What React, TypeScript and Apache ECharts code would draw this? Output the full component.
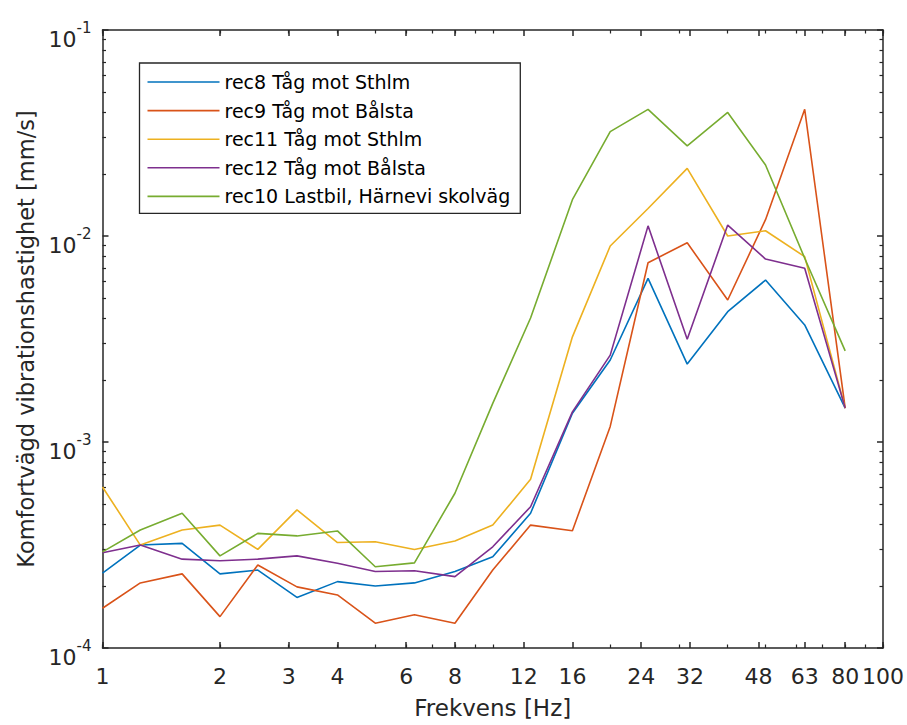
import React, { useEffect, useRef } from "react";
import * as echarts from "echarts";

const FREQS = [1, 1.25, 1.6, 2, 2.5, 3.15, 4, 5, 6.3, 8, 10, 12.5, 16, 20, 25, 31.5, 40, 50, 63, 80];

const REC8 = [2.31e-4, 3.16e-4, 3.22e-4, 2.29e-4, 2.39e-4, 1.76e-4, 2.1e-4, 2.0e-4, 2.07e-4, 2.35e-4, 2.77e-4, 4.51e-4, 1.38e-3, 2.5e-3, 6.23e-3, 2.39e-3, 4.29e-3, 6.11e-3, 3.7e-3, 1.46e-3];
const REC9 = [1.56e-4, 2.07e-4, 2.29e-4, 1.42e-4, 2.53e-4, 1.98e-4, 1.81e-4, 1.32e-4, 1.45e-4, 1.32e-4, 2.39e-4, 3.95e-4, 3.71e-4, 1.19e-3, 7.42e-3, 9.27e-3, 4.89e-3, 1.2e-2, 4.12e-2, 1.46e-3];
const REC11 = [6.05e-4, 3.16e-4, 3.74e-4, 3.95e-4, 3.01e-4, 4.68e-4, 3.25e-4, 3.28e-4, 3.01e-4, 3.31e-4, 3.95e-4, 6.59e-4, 3.24e-3, 8.94e-3, 1.36e-2, 2.13e-2, 1.0e-2, 1.06e-2, 7.94e-3, 1.46e-3];
const REC12 = [2.9e-4, 3.16e-4, 2.7e-4, 2.65e-4, 2.7e-4, 2.8e-4, 2.58e-4, 2.35e-4, 2.37e-4, 2.22e-4, 3.1e-4, 4.85e-4, 1.4e-3, 2.64e-3, 1.12e-2, 3.15e-3, 1.13e-2, 7.73e-3, 6.97e-3, 1.46e-3];
const REC10 = [2.93e-4, 3.74e-4, 4.51e-4, 2.8e-4, 3.6e-4, 3.5e-4, 3.7e-4, 2.48e-4, 2.59e-4, 5.64e-4, 1.54e-3, 4.0e-3, 1.5e-2, 3.21e-2, 4.12e-2, 2.74e-2, 3.98e-2, 2.21e-2, 7.8e-3, 2.77e-3];

const SERIES_NAMES = [
  "rec8 Tåg mot Sthlm",
  "rec9 Tåg mot Bålsta",
  "rec11 Tåg mot Sthlm",
  "rec12 Tåg mot Bålsta",
  "rec10 Lastbil, Härnevi skolväg",
];
const SERIES_VALUES = [REC8, REC9, REC11, REC12, REC10];
const COLORS = ["#0072BD", "#D95319", "#EDB120", "#7E2F8E", "#77AC30"];

const X_TICKS = [1, 2, 3, 4, 6, 8, 12, 16, 24, 32, 48, 63, 80, 100];
const X_MINOR = [1, 2, 3, 4, 5, 6, 7, 8, 9, 10, 20, 30, 40, 50, 60, 70, 80, 90, 100];
const Y_TICKS = [1e-4, 1e-3, 1e-2, 1e-1];
const Y_MINOR = [
  2e-4, 3e-4, 4e-4, 5e-4, 6e-4, 7e-4, 8e-4, 9e-4,
  2e-3, 3e-3, 4e-3, 5e-3, 6e-3, 7e-3, 8e-3, 9e-3,
  2e-2, 3e-2, 4e-2, 5e-2, 6e-2, 7e-2, 8e-2, 9e-2,
];

const FONT = "DejaVu Sans";
const AXIS_COLOR = "#262626";

export default function App() {
  const ref = useRef<HTMLDivElement>(null);

  useEffect(() => {
    if (!ref.current) return;
    const chart = echarts.init(ref.current, undefined, { renderer: "svg" });

    const lineCommon = { show: true, lineStyle: { color: AXIS_COLOR, width: 1.5 } };
    const hiddenLine = { show: false };
    const majorTickX = { show: true, inside: true, length: 6, customValues: X_TICKS, lineStyle: { color: AXIS_COLOR, width: 1.5 } };
    const minorTickX = { show: true, inside: true, length: 3.5, customValues: X_MINOR, lineStyle: { color: AXIS_COLOR, width: 1.2 } };
    const majorTickY = { show: true, inside: true, length: 6, customValues: Y_TICKS, lineStyle: { color: AXIS_COLOR, width: 1.5 } };
    const minorTickY = { show: true, inside: true, length: 3.5, customValues: Y_MINOR, lineStyle: { color: AXIS_COLOR, width: 1.2 } };

    const xBase = { type: "log", logBase: 10, min: 1, max: 100, splitLine: { show: false } };
    const yBase = { type: "log", logBase: 10, min: 1e-4, max: 1e-1, splitLine: { show: false } };

    const option: any = {
      animation: false,
      backgroundColor: "#ffffff",
      grid: { left: 102.5, right: 22, top: 30, bottom: 77, containLabel: false },
      legend: {
        orient: "vertical",
        left: 139.5,
        top: 63,
        padding: [9, 10, 7, 8],
        icon: "rect",
        itemWidth: 72,
        itemHeight: 1.6,
        itemGap: 8.6,
        selectedMode: false,
        backgroundColor: "#ffffff",
        borderColor: AXIS_COLOR,
        borderWidth: 1.3,
        textStyle: { fontFamily: FONT, fontSize: 19, color: "#000", lineHeight: 20 },
        data: SERIES_NAMES,
      },
      xAxis: [
        {
          ...xBase,
          position: "bottom",
          name: "Frekvens [Hz]",
          nameLocation: "middle",
          nameGap: 48,
          nameTextStyle: { fontFamily: FONT, fontSize: 23, color: AXIS_COLOR },
          axisLine: lineCommon,
          axisTick: majorTickX,
          axisLabel: {
            show: true,
            customValues: X_TICKS,
            margin: 17,
            fontFamily: FONT,
            fontSize: 22,
            color: AXIS_COLOR,
            hideOverlap: false,
            formatter: (v: number) => String(Math.round(v * 100) / 100),
          },
        },
        { ...xBase, position: "bottom", axisLine: hiddenLine, axisTick: minorTickX, axisLabel: { show: false } },
        { ...xBase, position: "top", axisLine: lineCommon, axisTick: majorTickX, axisLabel: { show: false } },
        { ...xBase, position: "top", axisLine: hiddenLine, axisTick: minorTickX, axisLabel: { show: false } },
      ],
      yAxis: [
        {
          ...yBase,
          position: "left",
          name: "Komfortvägd vibrationshastighet [mm/s]",
          nameLocation: "middle",
          nameGap: 62,
          nameTextStyle: { fontFamily: FONT, fontSize: 22.5, color: AXIS_COLOR },
          axisLine: lineCommon,
          axisTick: majorTickY,
          axisLabel: {
            show: true,
            customValues: Y_TICKS,
            margin: 11,
            padding: [10, 0, 0, 0],
            color: AXIS_COLOR,
            formatter: (v: number) => {
              const e = Math.round(Math.log10(v));
              return "{b|10}{sup|" + (e < 0 ? "-" : "") + Math.abs(e) + "}";
            },
            rich: {
              b: { fontFamily: FONT, fontSize: 22, lineHeight: 30, color: AXIS_COLOR, verticalAlign: "bottom" },
              sup: { fontFamily: FONT, fontSize: 15, lineHeight: 15, color: AXIS_COLOR, verticalAlign: "top" },
            },
          },
        },
        { ...yBase, position: "left", axisLine: hiddenLine, axisTick: minorTickY, axisLabel: { show: false } },
        { ...yBase, position: "right", axisLine: lineCommon, axisTick: majorTickY, axisLabel: { show: false } },
        { ...yBase, position: "right", axisLine: hiddenLine, axisTick: minorTickY, axisLabel: { show: false } },
      ],
      series: SERIES_NAMES.map((name, i) => ({
        name,
        type: "line",
        xAxisIndex: 0,
        yAxisIndex: 0,
        symbol: "none",
        showSymbol: false,
        color: COLORS[i],
        itemStyle: { color: COLORS[i] },
        lineStyle: { color: COLORS[i], width: 1.6 },
        data: FREQS.map((f, j) => [f, SERIES_VALUES[i][j]]),
      })),
    };

    chart.setOption(option);
    return () => chart.dispose();
  }, []);

  return (
    <div
      ref={ref}
      style={{ position: "fixed", left: 0, top: 0, width: 907, height: 725, background: "#fff" }}
    />
  );
}
